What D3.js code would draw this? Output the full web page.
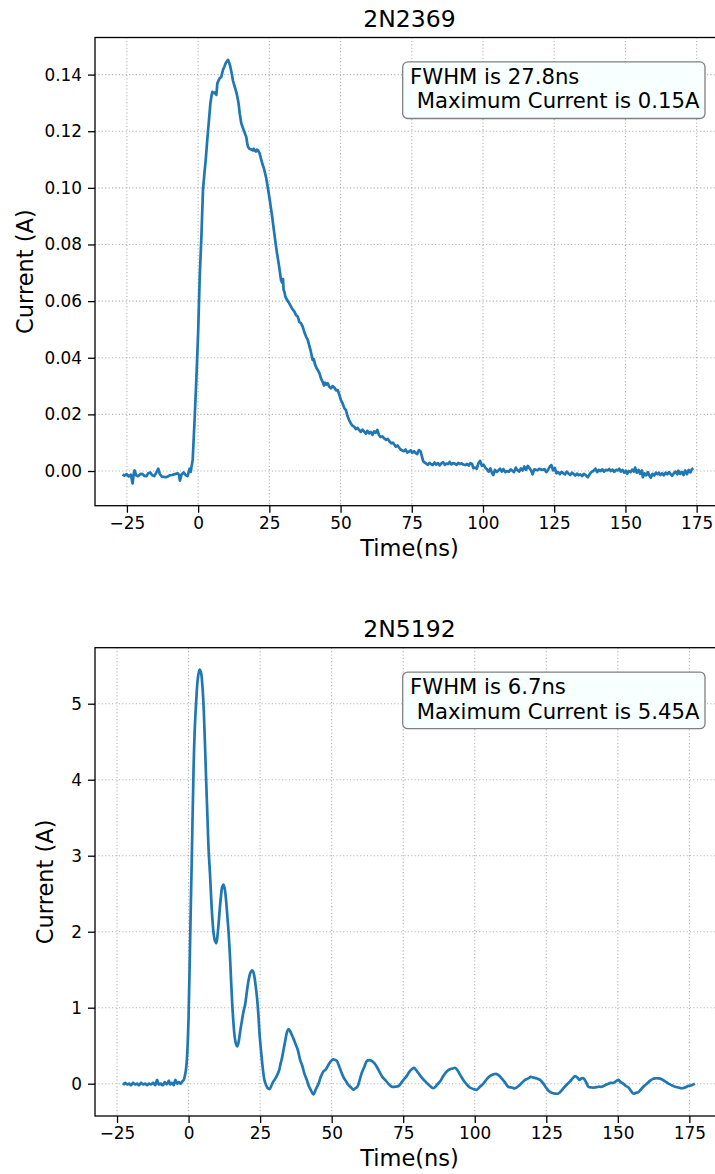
<!DOCTYPE html>
<html><head><meta charset="utf-8">
<script src="https://cdnjs.cloudflare.com/ajax/libs/d3/7.8.5/d3.min.js"></script>
<style>
html,body{margin:0;padding:0;background:#fff;}
text{font-family:"DejaVu Sans",sans-serif;fill:#000;}
</style></head>
<body><svg id="chart" width="715" height="1174"></svg>
<script>
// ---------- DATA ----------
const titles = ["2N2369", "2N5192"];
const xLabel = "Time(ns)";
const yLabel = "Current (A)";
const xTicks = [-25, 0, 25, 50, 75, 100, 125, 150, 175];
const yTicksTop = [0.00, 0.02, 0.04, 0.06, 0.08, 0.10, 0.12, 0.14];
const yTicksBottom = [0, 1, 2, 3, 4, 5];
const notesTop = ["FWHM is 27.8ns", " Maximum Current is 0.15A"];
const notesBottom = ["FWHM is 6.7ns", " Maximum Current is 5.45A"];

// 2N2369: time (ns) and current (A)
const timeTop = [-26.5,-25.9,-25.1,-24.4,-23.6,-23.0,-22.6,-22.3,-21.7,-21.0,-20.3,-19.6,-18.9,-18.2,-17.5,-16.8,-16.1,-15.4,-14.7,-14.0,-13.4,-12.7,-12.0,-11.3,-10.6,-9.9,-9.2,-8.5,-7.8,-7.1,-6.7,-6.4,-5.8,-5.1,-4.4,-3.7,-3.0,-2.6,-2.3,
-1.9,-1.2,-0.6,0.0,0.56,1.15,1.7,2.2,2.66,3.1,3.5,3.9,4.3,4.7,5.0,5.4,5.8,6.1,6.4,6.75,7.2,7.56,8.15,8.7,9.2,9.66,10.1,10.5,10.9,11.3,11.8,12.2,12.7,13.2,13.6,14.0,14.3,14.6,15.15,15.6,16.0,16.5,16.9,17.2,17.5,18.0,18.6,19.2,19.5,19.8,20.3,20.6,21.0,21.6,22.0,22.5,23.2,23.9,24.4,24.8,25.4,26.0,26.6,27.2,27.6,28.0,28.5,29.1,29.5,29.8,30.0,30.3,30.65,31.3,32.0,32.9,33.8,34.4,35.0,35.5,36.1,36.7,37.3,38.0,38.5,38.8,39.5,40.2,40.6,41.0,41.5,42.0,42.6,43.1,43.7,44.2,44.6,45.0,45.5,46.0,46.6,47.2,47.8,48.4,49.0,49.6,50.1,50.7,51.3,51.9,52.4,53.0,53.6,54.2,54.8,55.4,56.0,56.5,57.1,57.7,58.3,58.9,59.4,60.0,60.6,61.2,61.8,62.3,62.9,63.5,64.1,64.7,65.3,66.0,66.6,67.2,67.8,68.4,69.0,69.4,70.0,70.6,71.2,71.7,72.3,72.8,73.4,74.0,74.6,75.2,75.8,76.4,76.9,77.5,78.1,78.6,79.0,79.5,
80.0,80.6,81.2,81.8,82.4,83.0,83.6,84.2,84.8,85.4,86.0,86.6,87.2,87.8,88.3,88.9,89.5,90.1,90.7,91.3,91.9,92.5,93.1,93.8,94.4,95.0,95.6,96.2,96.6,97.2,97.8,98.4,99.0,99.6,100.2,100.8,101.4,102.0,102.6,103.2,103.6,104.2,104.8,105.4,106.0,106.6,107.2,107.8,108.4,109.1,109.7,110.3,110.9,111.5,112.1,112.7,113.3,113.9,114.5,115.1,115.7,116.3,116.9,117.4,118.0,118.6,119.2,119.8,120.4,121.0,121.6,122.2,122.8,123.4,124.0,124.6,125.2,125.8,126.4,127.0,127.6,128.2,128.8,129.4,130.0,130.6,131.2,131.8,132.4,133.0,133.6,134.2,134.8,135.4,136.0,136.8,137.4,138.0,138.6,139.5,140.1,140.7,141.3,141.9,142.5,143.1,143.7,144.3,144.9,145.5,146.1,146.7,147.3,147.8,148.4,149.0,149.6,150.2,150.6,151.2,151.8,152.4,153.0,153.4,154.0,154.6,155.2,155.8,156.1,156.7,157.3,157.9,158.5,158.9,159.5,160.1,160.7,161.3,161.7,162.3,162.9,163.5,164.1,164.7,165.3,165.8,166.4,167.0,167.6,168.2,168.6,169.2,169.8,170.4,171.0,171.6,172.2,172.8,173.3,173.8];
const currentTop = [-0.0012,-0.0016,-0.0011,-0.0019,-0.0013,-0.0044,-0.0010,0.0002,-0.0016,-0.0018,-0.0011,-0.0010,-0.0017,-0.0018,-0.0008,-0.0005,-0.0015,-0.0018,-0.0006,0.0008,-0.0012,-0.0020,-0.0021,-0.0022,-0.0019,-0.0015,-0.0014,-0.0012,-0.0010,-0.0008,-0.0014,-0.0034,-0.0012,-0.0005,-0.0014,-0.0018,0.0008,-0.0003,0.0016,
0.004,0.019,0.033,0.0487,0.0686,0.0827,0.0992,0.1050,0.1098,0.1155,0.1204,0.1250,0.1298,0.1325,0.1339,0.1336,0.1334,0.1338,0.1328,0.1369,0.1380,0.1387,0.1392,0.1416,0.1428,0.1440,0.1447,0.1452,0.1442,0.1428,0.1404,0.1380,0.1362,0.1345,0.1330,0.1310,0.1290,0.1263,0.1228,0.1215,0.1204,0.1190,0.1180,0.1160,0.1145,0.1138,0.1136,0.1132,0.1138,0.1133,0.1128,0.1135,0.1133,0.1122,0.1105,0.1087,0.1065,0.1035,0.1005,0.0980,0.0940,0.0898,0.0850,0.0804,0.0775,0.0750,0.0718,0.0674,0.0665,0.0678,0.0640,0.0632,0.0615,0.0603,0.0592,0.0575,0.0563,0.0550,0.0545,0.0527,0.0522,0.0510,0.0490,0.0472,0.0463,0.0451,0.0425,0.0392,0.0395,0.0378,0.0365,0.0357,0.0345,0.0328,0.0315,0.0302,0.0312,0.0305,0.0310,0.0298,0.0292,0.0300,0.0295,0.0285,0.0286,0.0268,0.0251,0.0240,0.0222,0.0215,0.0195,0.0180,0.0168,0.0160,0.0156,0.0148,0.0152,0.0145,0.0138,0.0146,0.0139,0.0132,0.0142,0.0133,0.0138,0.0128,0.0140,0.0135,0.0145,0.0127,0.0120,0.0122,0.0115,0.0110,0.0113,0.0104,0.0098,0.0100,0.0092,0.0086,0.0090,0.0082,0.0075,0.0072,0.0070,0.0076,0.0065,0.0068,0.0073,0.0064,0.0070,0.0063,0.0060,0.0074,0.0069,0.0050,0.0035,0.0030,
0.0027,0.0022,0.0029,0.0024,0.0021,0.0030,0.0023,0.0028,0.0020,0.0027,0.0031,0.0022,0.0026,0.0025,0.0032,0.0023,0.0028,0.0026,0.0022,0.0029,0.0025,0.0027,0.0023,0.0021,0.0025,0.0019,0.0028,0.0024,0.0010,0.0012,0.0008,0.0027,0.0036,0.0018,0.0022,0.0012,0.0006,-0.0002,0.0009,-0.0008,-0.0014,0.0004,-0.0003,0.0002,0.0008,-0.0002,0.0007,-0.0004,0.0000,-0.0002,0.0006,0.0001,-0.0004,0.0012,0.0003,-0.0002,0.0009,0.0002,0.0016,0.0004,0.0018,0.0010,0.0002,-0.0012,0.0006,0.0004,0.0003,0.0008,0.0005,0.0004,0.0007,-0.0004,0.0003,0.0015,0.0021,0.0002,0.0010,-0.0008,-0.0004,-0.0011,-0.0003,-0.0008,-0.0012,-0.0002,-0.0009,-0.0014,-0.0006,-0.0010,-0.0016,-0.0009,-0.0015,-0.0012,-0.0018,-0.0010,-0.0014,-0.0022,-0.0012,-0.0004,-0.0001,0.0008,-0.0004,0.0004,0.0000,0.0006,-0.0002,0.0004,0.0002,0.0007,0.0000,0.0005,-0.0003,0.0004,0.0002,0.0008,-0.0002,0.0004,-0.0006,0.0001,-0.0010,0.0000,-0.0004,0.0005,-0.0002,0.0012,-0.0006,0.0004,-0.0010,0.0002,-0.0022,-0.0008,-0.0015,-0.0004,-0.0018,-0.0024,-0.0010,-0.0016,-0.0006,-0.0012,-0.0006,-0.0014,-0.0008,-0.0015,-0.0006,-0.0012,-0.0004,-0.0010,-0.0017,-0.0008,-0.0002,-0.0012,0.0001,-0.0010,-0.0003,-0.0014,0.0002,-0.0011,0.0004,-0.0005,0.0006,0.0010];

// 2N5192: time (ns) and current (A)
const timeBottom = [-22.8,-22.2,-21.5,-20.8,-20.1,-19.4,-18.7,-18.0,-17.3,-16.6,-15.9,-15.2,-14.5,-13.8,-13.1,-12.4,-11.7,-11.0,-10.4,-9.7,-9.0,-8.3,-7.6,-6.9,-6.4,-5.8,-5.2,-4.6,-4.0,-3.4,-2.8,-2.2,-1.7,-1.2,-0.8,-0.4,0.0,0.59,1.18,1.76,2.2,2.69,3.2,3.85,4.3,4.8,5.25,5.7,6.18,6.6,7.0,7.5,7.93,8.3,8.74,9.2,9.67,10.1,10.5,10.9,11.3,11.7,12.2,12.7,13.2,13.6,14.0,14.5,14.9,15.3,15.7,16.1,16.6,17.0,17.5,18.0,18.6,19.2,19.8,20.4,20.97,21.5,22.1,22.5,22.9,23.4,23.9,24.4,24.8,25.4,26.0,26.5,27.1,27.7,28.3,28.9,29.5,30.2,30.9,31.6,32.2,32.6,33.2,33.8,34.4,34.9,35.5,36.1,36.7,37.4,38.2,39.0,39.7,40.5,41.3,42.0,42.8,43.6,44.5,45.4,46.2,47.1,48.0,48.9,49.8,50.6,51.3,51.8,52.6,53.5,54.2,54.9,55.9,56.8,57.6,58.3,59.0,59.8,60.5,61.4,62.3,63.2,64.0,64.9,65.8,66.8,67.7,68.7,69.8,71.0,72.2,73.4,74.3,75.1,76.2,77.2,78.0,78.8,79.5,80.3,81.5,82.7,84.1,85.5,86.7,87.9,89.0,90.2,91.3,92.3,93.1,93.9,95.0,96.0,97.2,98.3,99.5,100.7,101.8,103.0,104.2,105.3,106.4,107.4,108.4,109.4,110.5,111.7,112.9,114.1,115.3,116.4,117.6,118.7,119.6,120.5,121.6,122.8,124.0,125.1,126.0,126.9,128.0,129.2,130.1,131.0,132.2,133.3,134.2,135.1,135.9,136.6,137.3,138.0,138.9,139.7,140.9,142.0,143.2,144.4,145.5,146.7,147.5,148.4,149.3,150.2,151.0,151.9,152.8,153.7,154.5,155.4,156.3,157.2,158.0,158.9,160.1,161.3,162.1,163.0,164.2,165.3,166.5,167.7,168.8,170.0,171.1,172.3,173.5,174.6,175.8,176.9];
const currentBottom = [-0.02,0.01,-0.01,0.00,-0.02,0.01,-0.01,0.00,-0.02,0.01,-0.01,0.00,-0.02,0.00,-0.01,0.01,-0.02,0.05,-0.01,0.00,-0.02,0.02,-0.01,0.04,-0.01,0.01,-0.02,0.05,0.00,0.02,0.00,0.03,0.05,0.12,0.22,0.45,0.88,1.98,3.08,4.17,4.70,5.05,5.32,5.45,5.42,5.25,4.96,4.50,3.95,3.50,3.08,2.75,2.42,2.18,1.98,1.88,1.85,1.95,2.11,2.30,2.46,2.58,2.62,2.55,2.37,2.18,1.98,1.65,1.32,1.02,0.79,0.62,0.52,0.49,0.55,0.68,0.82,0.95,1.05,1.22,1.36,1.45,1.49,1.48,1.43,1.30,1.14,0.90,0.66,0.40,0.18,0.05,-0.02,-0.06,-0.07,-0.03,0.02,0.06,0.11,0.17,0.27,0.33,0.45,0.57,0.68,0.72,0.69,0.64,0.59,0.52,0.44,0.31,0.24,0.13,0.05,-0.03,-0.09,-0.14,-0.07,0.00,0.09,0.16,0.19,0.25,0.30,0.32,0.31,0.30,0.23,0.14,0.08,0.04,-0.02,-0.05,-0.08,-0.06,-0.04,0.05,0.14,0.22,0.30,0.31,0.30,0.27,0.22,0.15,0.09,0.05,0.00,-0.04,-0.04,-0.03,0.01,0.05,0.10,0.16,0.19,0.21,0.18,0.14,0.08,0.03,-0.02,-0.06,-0.02,0.03,0.10,0.16,0.19,0.20,0.21,0.18,0.11,0.05,-0.01,-0.05,-0.07,-0.08,-0.04,0.00,0.06,0.10,0.12,0.13,0.11,0.07,0.02,-0.04,-0.05,-0.06,-0.03,0.01,0.05,0.07,0.09,0.08,0.07,0.05,0.00,-0.06,-0.10,-0.12,-0.13,-0.13,-0.10,-0.06,-0.01,0.03,0.07,0.10,0.08,0.05,0.07,0.07,0.02,-0.04,-0.05,-0.05,-0.04,-0.04,-0.02,0.00,0.01,0.01,0.03,0.05,0.02,0.00,-0.03,-0.05,-0.09,-0.13,-0.12,-0.11,-0.08,-0.04,0.00,0.04,0.06,0.07,0.07,0.06,0.03,0.00,-0.02,-0.04,-0.05,-0.06,-0.05,-0.03,-0.02,0.00];

// ---------- DRAW ----------
const svg = d3.select("#chart");
const color = "#1f77b4";

const panels = [
  {title: titles[0], time: timeTop, cur: currentTop, yTicks: yTicksTop, yFmt: d3.format(".2f"), notes: notesTop,
   left: 95, right: 724, top: 37.5, bottom: 505.7, xDom: [-36.2, 184.6], yDom: [-0.01225, 0.1531],
   ylabX: 32.5, curve: d3.curveLinear},
  {title: titles[1], time: timeBottom, cur: currentBottom, yTicks: yTicksBottom, yFmt: d3.format("d"), notes: notesBottom,
   left: 95, right: 724, top: 647.7, bottom: 1116, xDom: [-32.7, 187.1], yDom: [-0.425, 5.737],
   ylabX: 53, curve: d3.curveCatmullRom.alpha(0.5)}
];

panels.forEach((p, i) => {
  const g = svg.append("g");
  const x = d3.scaleLinear().domain(p.xDom).range([p.left, p.right]);
  const y = d3.scaleLinear().domain(p.yDom).range([p.bottom, p.top]);

  // grid
  g.append("g").selectAll("line").data(xTicks).join("line")
    .attr("x1", d => x(d)).attr("x2", d => x(d)).attr("y1", p.top).attr("y2", p.bottom)
    .attr("stroke", "#b0b0b0").attr("stroke-width", 1.1).attr("stroke-dasharray", "1.1,2.3");
  g.append("g").selectAll("line").data(p.yTicks).join("line")
    .attr("x1", p.left).attr("x2", p.right).attr("y1", d => y(d)).attr("y2", d => y(d))
    .attr("stroke", "#b0b0b0").attr("stroke-width", 1.1).attr("stroke-dasharray", "1.1,2.3");

  // line
  const pts = p.time.map((t, k) => [t, p.cur[k]]);
  g.append("path").datum(pts)
    .attr("d", d3.line().x(d => x(d[0])).y(d => y(d[1])).curve(p.curve))
    .attr("fill", "none").attr("stroke", color).attr("stroke-width", 2.7)
    .attr("stroke-linejoin", "round").attr("stroke-linecap", "butt");

  // axes
  const xa = g.append("g").attr("transform", `translate(0,${p.bottom})`)
    .call(d3.axisBottom(x).tickValues(xTicks).tickSize(7).tickPadding(4.5).tickFormat(d3.format("d")));
  const ya = g.append("g").attr("transform", `translate(${p.left},0)`)
    .call(d3.axisLeft(y).tickValues(p.yTicks).tickSize(7).tickPadding(6).tickFormat(p.yFmt));
  [xa, ya].forEach(a => {
    a.select(".domain").remove();
    a.selectAll("line").attr("stroke", "#000").attr("stroke-width", 1.3);
    a.selectAll("text").attr("font-family", "DejaVu Sans").attr("font-size", 16.9).attr("fill", "#000");
  });

  // spines
  g.append("rect").attr("x", p.left).attr("y", p.top)
    .attr("width", p.right - p.left).attr("height", p.bottom - p.top)
    .attr("fill", "none").attr("stroke", "#000").attr("stroke-width", 1.3);

  // title
  g.append("text").attr("x", (p.left + p.right) / 2).attr("y", p.top - 10.8)
    .attr("text-anchor", "middle").attr("font-size", 23.5).text(p.title);

  // axis labels
  g.append("text").attr("x", (p.left + p.right) / 2).attr("y", p.bottom + 50.3)
    .attr("text-anchor", "middle").attr("font-size", 22.5).text(xLabel);
  g.append("text").attr("transform", `translate(${p.ylabX},${(p.top + p.bottom) / 2}) rotate(-90)`)
    .attr("text-anchor", "middle").attr("font-size", 22.5).text(yLabel);

  // annotation box
  g.append("rect").attr("x", p.left + 307.7).attr("y", p.top + 24.4)
    .attr("width", 302.3).attr("height", 56.6).attr("rx", 5).attr("ry", 5)
    .attr("fill", "#f7ffff").attr("stroke", "#808080").attr("stroke-width", 1.3);
  g.append("g").selectAll("text").data(p.notes).join("text")
    .attr("x", p.left + 315).attr("y", (d, k) => p.top + 46 + k * 24.8)
    .attr("font-size", 21.2).style("white-space", "pre").text(d => d);
});
</script>
</body></html>
